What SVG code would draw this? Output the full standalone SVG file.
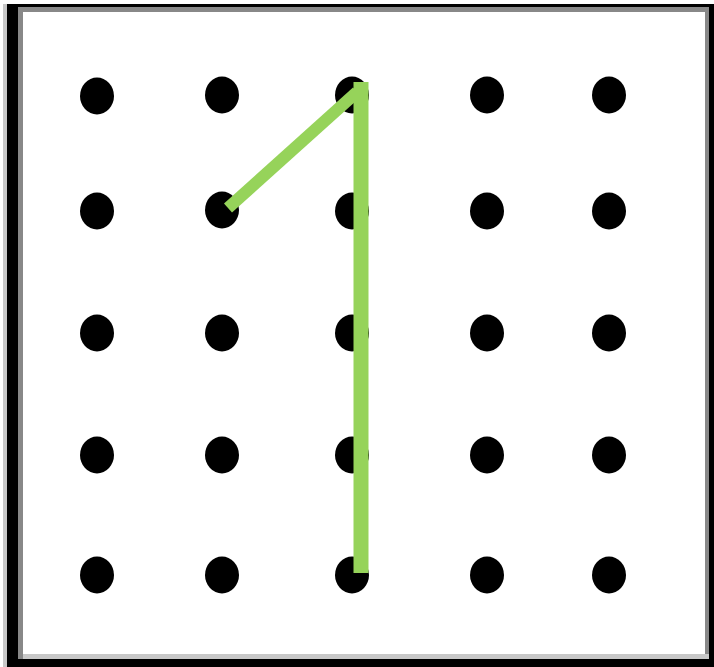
<svg xmlns="http://www.w3.org/2000/svg" width="714" height="667" viewBox="0 0 714 667">
<style>
.dot{fill:#000}
.seg{stroke:#96d35a;stroke-linecap:butt;fill:none}
</style>
<rect x="0" y="0" width="714" height="667" fill="#fff"/>
<g id="frame">
<rect x="3" y="4" width="4" height="663" fill="#c8c8c8"/>
<rect x="7" y="4" width="707" height="3" fill="#000"/>
<rect x="7" y="4" width="11" height="663" fill="#000"/>
<rect x="18" y="7" width="691" height="5" fill="#888"/>
<rect x="18" y="7" width="5" height="652" fill="#888"/>
<rect x="705" y="7" width="4" height="652" fill="#888"/>
<rect x="709" y="4" width="5" height="663" fill="#000"/>
<rect x="23" y="654" width="686" height="5" fill="#c8c8c8"/>
<rect x="7" y="659" width="707" height="8" fill="#000"/>
</g>
<g id="dots">
<g id="r1"><ellipse class="dot" cx="97" cy="96" rx="17" ry="18.5"/><ellipse class="dot" cx="222" cy="95" rx="17" ry="18.5"/><ellipse class="dot" cx="352" cy="95" rx="17" ry="18.5"/><ellipse class="dot" cx="487" cy="95" rx="17" ry="18.5"/><ellipse class="dot" cx="609" cy="95" rx="17" ry="18.5"/></g>
<g id="r2"><ellipse class="dot" cx="97" cy="211" rx="17" ry="18.5"/><ellipse class="dot" cx="222" cy="210" rx="17" ry="18.5"/><ellipse class="dot" cx="352" cy="211" rx="17" ry="18.5"/><ellipse class="dot" cx="487" cy="211" rx="17" ry="18.5"/><ellipse class="dot" cx="609" cy="211" rx="17" ry="18.5"/></g>
<g id="r3"><ellipse class="dot" cx="97" cy="333" rx="17" ry="18.5"/><ellipse class="dot" cx="222" cy="333" rx="17" ry="18.5"/><ellipse class="dot" cx="352" cy="333" rx="17" ry="18.5"/><ellipse class="dot" cx="487" cy="333" rx="17" ry="18.5"/><ellipse class="dot" cx="609" cy="333" rx="17" ry="18.5"/></g>
<g id="r4"><ellipse class="dot" cx="97" cy="455" rx="17" ry="18.5"/><ellipse class="dot" cx="222" cy="455" rx="17" ry="18.5"/><ellipse class="dot" cx="352" cy="455" rx="17" ry="18.5"/><ellipse class="dot" cx="487" cy="455" rx="17" ry="18.5"/><ellipse class="dot" cx="609" cy="455" rx="17" ry="18.5"/></g>
<g id="r5"><ellipse class="dot" cx="97" cy="575" rx="17" ry="18.5"/><ellipse class="dot" cx="222" cy="575" rx="17" ry="18.5"/><ellipse class="dot" cx="352" cy="575" rx="17" ry="18.5"/><ellipse class="dot" cx="487" cy="575" rx="17" ry="18.5"/><ellipse class="dot" cx="609" cy="575" rx="17" ry="18.5"/></g>
</g>
<g id="connectors">
<line class="seg" x1="228" y1="208" x2="357" y2="92" stroke-width="12"/>
<line class="seg" x1="361" y1="82" x2="361" y2="573" stroke-width="15"/>
</g>
</svg>
